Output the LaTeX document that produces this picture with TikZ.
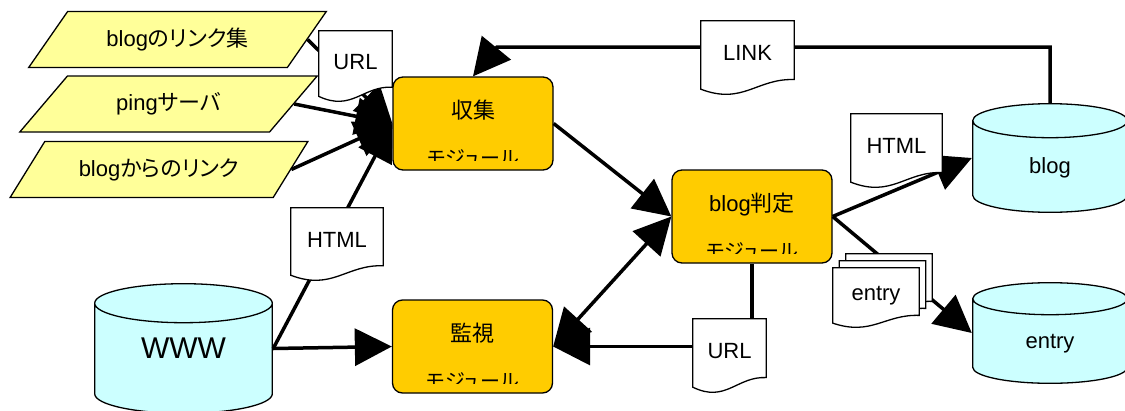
\documentclass[tikz,border=0pt]{standalone}
\usepackage{fontspec}
\setmainfont{Liberation Sans}
\newfontfamily\jp[RawFeature=+palt]{Noto Sans CJK JP}
\usetikzlibrary{arrows.meta, shapes.geometric, calc}

\definecolor{srcfill}{HTML}{FFFF99}
\definecolor{modfill}{HTML}{FFCC00}
\definecolor{dbfill}{HTML}{CCFFFF}

\begin{document}
\begin{tikzpicture}[
        x=1pt, y=-1pt,
        >={Triangle[length=37pt, width=37pt]},
        font=\fontsize{22pt}{26pt}\selectfont,
        % input sources
        source/.style={trapezium, trapezium left angle=42.5, trapezium right angle=137.5,
                trapezium stretches=true, draw, line width=1.3pt, fill=srcfill,
                minimum width=298pt, minimum height=56pt, inner sep=0pt},
        % processing modules
        module/.style={rectangle, draw, line width=1.3pt, rounded corners=10pt, fill=modfill,
                minimum width=160pt, minimum height=93pt, inner sep=0pt,
                text height=17pt, text depth=28pt},
        modnote/.style={font=\fontsize{20pt}{22pt}\selectfont\jp, inner sep=0pt},
        % pages with a wavy lower edge
        doc/.style={rectangle, inner sep=0pt, minimum width=75pt, minimum height=74pt,
                text height=16pt, text depth=10pt,
                path picture={
                    \filldraw[fill=white, line width=1.3pt]
                    let \p1=($(path picture bounding box.south west)+(0.7pt,0.7pt)$),
                        \p2=($(path picture bounding box.north east)-(0.7pt,0.7pt)$) in
                    (\x1,\y2) -- (\x2,\y2) -- (\x2,{\y1+0.2*(\y2-(\y1))})
                    .. controls ({\x1+0.6*(\x2-\x1)},{\y1+0.22*(\y2-(\y1))})
                    and ({\x1+0.45*(\x2-\x1)},{\y1-0.15*(\y2-(\y1))})
                    .. (\x1,{\y1+0.07*(\y2-(\y1))}) -- cycle;
                }},
        % data stores
        db/.style={rectangle, inner sep=0pt,
                path picture={
                    \filldraw[fill=dbfill, line width=1.3pt]
                    let \p1=($(path picture bounding box.south west)+(0.7pt,0.7pt)$),
                        \p2=($(path picture bounding box.north east)-(0.7pt,0.7pt)$) in
                    (\x1,{\y2-#1}) -- (\x1,{\y1+#1})
                    arc[start angle=180, end angle=360, x radius={(\x2-\x1)/2}, y radius=#1]
                    -- (\x2,{\y2-#1})
                    arc[start angle=0, end angle=180, x radius={(\x2-\x1)/2}, y radius=#1]
                    -- cycle
                    (\x1,{\y2-#1})
                    arc[start angle=180, end angle=360, x radius={(\x2-\x1)/2}, y radius=#1];
                }},
        db/.default=17pt,
        flow/.style={->, line width=3.5pt},
    ]
    \useasboundingbox (0,0) rectangle (1125,410);

    % === INPUT SOURCES ===
    \node[source] (links) at (177.5,39.5) {blog{\jp のリンク集}};
    \node[source] (ping) at (168.5,104) {ping{\jp サーバ}};
    \node[source] (inlinks) at (159,169.5) {blog{\jp からのリンク}};

    % === DATA STORES ===
    \node[db=19.5pt, minimum width=179pt, minimum height=131pt,
        font=\fontsize{30pt}{34pt}\selectfont] (www) at (183.5,348.5) {WWW};
    \node[db, minimum width=156pt, minimum height=110pt,
        text height=36pt, text depth=5pt] (blog) at (1050,158) {blog};
    \node[db=16pt, minimum width=156pt, minimum height=102pt,
        text height=36pt, text depth=5pt] (entry) at (1050,333) {entry};

    % === MODULES ===
    \node[module] (collect) at (473,123.5) {\jp 収集};
    \node[module] (judge) at (752,216.5) {blog{\jp 判定}};
    \node[module] (watch) at (472.5,346.5) {\jp 監視};

    % second line sits half under the lower edge
    \foreach \m in {collect, judge, watch} {
        \begin{scope}
            \clip ([yshift=10pt]\m.south west) rectangle (\m.north east);
            \node[modnote] (\m-note) at ([yshift=13pt]\m.south) {モジュール};
        \end{scope}
    }

    % === CONNECTIONS ===
    \foreach \src in {links, ping, inlinks}
        \draw[flow] (\src.east) -- (collect.west);
    \draw[flow] (www.east) -- (collect.west);
    \draw[flow] (www.east) -- (watch.west);
    \draw[flow] (collect.east) -- (judge.west);
    \draw[flow, <->] (watch.east) -- (judge.west);
    \draw[flow] (judge.south) |- (watch.east);
    \draw[flow] (judge.east) -- (blog.west);
    \draw[flow] (judge.east) -- (entry.west);

    % links found in blogs go back to the collector
    \coordinate (linkturn) at (497,47);
    \draw[flow] (blog.north) |- (linkturn) -- (collect.north);

    % === PAGES CARRIED ON THE CONNECTIONS ===
    \node[doc, minimum height=72pt] (url-in) at (355.5,66) {URL};
    \node[doc, minimum width=94pt] (html-in) at (337,244) {HTML};
    \node[doc, minimum width=95pt, minimum height=75pt] (link) at (747.5,57.5) {LINK};
    \node[doc, minimum width=93pt, minimum height=75pt] (html-out) at (896.5,150.5) {HTML};
    \node[doc, minimum height=75pt] (url-back) at (729.5,355.5) {URL};

    % stacked entry pages
    \foreach \i/\dx/\dy in {3/13/14, 2/6.5/7}
        \node[doc, minimum width=88pt, minimum height=61pt]
            (entry-page\i) at ({876+\dx},{297.5-\dy}) {};
    \node[doc, minimum width=88pt, minimum height=61pt] (entry-page) at (876,297.5) {entry};

\end{tikzpicture}
\end{document}
